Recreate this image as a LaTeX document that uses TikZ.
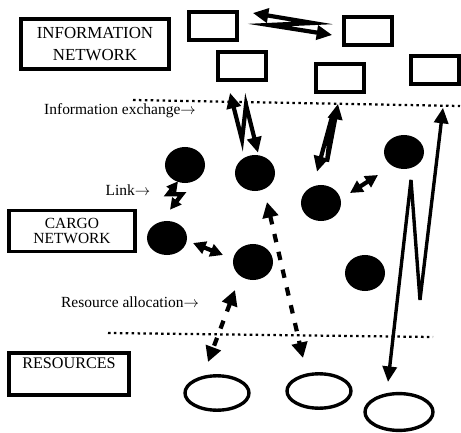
\documentclass[tikz,border=0pt]{standalone}
\usepackage{fontspec}
\setmainfont{Liberation Serif}
\usepackage{tikz}
\usetikzlibrary{arrows.meta,calc,shapes.geometric,positioning}

\begin{document}
\begin{tikzpicture}[x=0.025cm,y=-0.025cm,
  infobox/.style={draw,line width=2.6pt,minimum width=1.2cm,minimum height=0.7cm,inner sep=0pt},
  titlebox/.style={draw,line width=2.4pt,align=center,inner sep=0pt},
  stop/.style={ellipse,fill=black,minimum width=1.0cm,minimum height=0.9cm,inner sep=0pt},
  res/.style={ellipse,draw,line width=2.4pt,minimum width=1.6cm,minimum height=0.86cm,inner sep=0pt},
  bolt/.style={line width=3pt,line join=miter,{Triangle[length=11pt,width=10pt]}-{Triangle[length=11pt,width=10pt]}},
  dbl/.style={line width=3pt,{Triangle[length=9pt,width=9pt]}-{Triangle[length=9pt,width=9pt]}},
  dsh/.style={line width=3pt,dash pattern=on 6pt off 7pt,{Triangle[length=11pt,width=11pt]}-{Triangle[length=11pt,width=11pt]}},
  sep/.style={line width=1.6pt,dash pattern=on 1.8pt off 2.4pt},
  lbl/.style={font=\fontsize{11}{13}\selectfont,inner sep=0pt}]
\useasboundingbox (0,0) rectangle (461,433);
\node[titlebox,minimum width=3.7cm,minimum height=1.25cm,font=\fontsize{12}{13}\selectfont] (info) at (95,44) {INFORMATION\\[2.5pt]NETWORK};
\node[titlebox,minimum width=3.15cm,minimum height=1.02cm,font=\fontsize{11}{11}\selectfont] (cargo) at (72,231) {CARGO\\NETWORK};
\node[titlebox,minimum width=3.0cm,minimum height=1.05cm,font=\fontsize{11.5}{13}\selectfont] (resources) at (69,374) {RESOURCES\\[2pt]\mbox{}};
\node[infobox] (r1) at (213,26) {};
\node[infobox] (r2) at (368,31) {};
\node[infobox] (r3) at (242,66) {};
\node[infobox] (r4) at (340,78) {};
\node[infobox] (r5) at (435,70) {};
\node[stop] (c1) at (185,165) {};
\node[stop] (c2) at (255,173) {};
\node[stop] (c3) at (321,203) {};
\node[stop,minimum height=0.85cm] (c4) at (404,152) {};
\node[stop,minimum height=0.85cm] (c5) at (167,238) {};
\node[stop] (c6) at (253,262) {};
\node[stop] (c7) at (365,273) {};
\node[res] (e1) at (217,393) {};
\node[res] (e2) at (319,391) {};
\node[res,minimum width=1.7cm,minimum height=0.92cm] (e3) at (399,412) {};
\node[lbl] (exch) at (120,111) {Information exchange$\rightarrow$};
\node[lbl] (link) at (128,190) {Link$\rightarrow$};
\node[lbl] (alloc) at (130,302) {Resource allocation$\rightarrow$};
\draw[sep] (133,100) -- (460,106);
\draw[sep] (108,333) -- (433,337);
\draw[bolt] ($(r1.east)+(14,-13)$) -- ++(60,10) -- ++(-44,2) -- ($(r2.west)+(-10,4)$);
\draw[bolt] ($(r3.south)+(-12,11)$) -- ++(12,47) -- ++(4,-35) -- ($(c2.north)+(3,-2)$);
\draw[bolt] ($(c3.north)+(-4,-13)$) -- ++(15,-55) -- ++(-5,45) -- ($(r4.south)+(-2,10)$);
\draw[line width=2.4pt,line join=miter,{Triangle[length=11pt,width=10pt]}-{Triangle[length=11pt,width=10pt]}] ($(e3.north)+(-11,-10)$) -- ++(23,-202) -- ++(9,120) -- ($(r5.south)+(8,22)$);
\draw[bolt,{Triangle[length=8pt,width=8pt]}-{Triangle[length=8pt,width=8pt]}] ($(c1.south)+(-7,-2)$) -- ++(-10,13) -- ++(14,0) -- ($(c5.north)+(3,-11)$);
\draw[dbl] ($(c3)+(29,-10)$) -- ($(c4)+(-26,23)$);
\draw[dbl] ($(c5)+(26,5)$) -- ($(c6)+(-30,-7)$);
\draw[dsh] ($(c6)+(-18,28)$) -- ($(e1)+(-9,-31)$);
\draw[dsh] ($(c2)+(12,29)$) -- ($(e2)+(-16,-33)$);
\end{tikzpicture}
\end{document}
